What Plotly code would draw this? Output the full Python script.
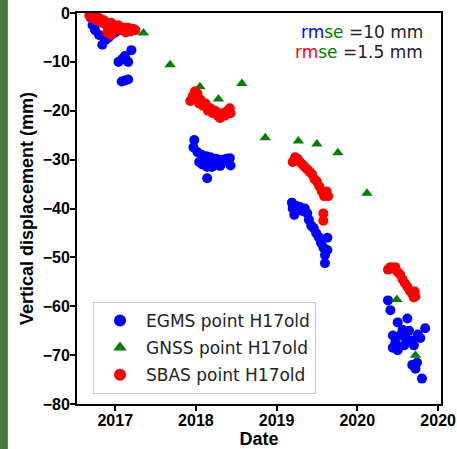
import plotly.graph_objects as go
import pandas as pd

# ---- data (decimal years, displacement in mm) ----
egms_t = [2016.70, 2016.72, 2016.75, 2016.80, 2016.84, 2016.88, 2016.92, 2016.97, 2017.00,
          2017.04, 2017.08, 2017.12, 2017.16, 2017.20, 2017.12, 2017.16, 2017.08,
          2017.98, 2017.97, 2018.02, 2018.04, 2018.07, 2018.10, 2018.13, 2018.14, 2018.14,
          2018.18, 2018.21, 2018.25, 2018.28, 2018.31, 2018.34, 2018.38, 2018.42, 2018.43,
          2018.30, 2018.08, 2018.20,
          2019.19, 2019.20, 2019.22, 2019.25, 2019.29, 2019.32, 2019.35, 2019.38, 2019.40,
          2019.43, 2019.46, 2019.49, 2019.52, 2019.55, 2019.58, 2019.60, 2019.63, 2019.63, 2019.60,
          2020.38, 2020.41, 2020.50, 2020.62, 2020.44, 2020.47, 2020.44, 2020.50, 2020.53,
          2020.56, 2020.60, 2020.64, 2020.67, 2020.70, 2020.78, 2020.84, 2020.75, 2020.68,
          2020.72, 2020.74, 2020.80, 2020.58]
egms_v = [-1.0, -2.5, -3.5, -4.5, -6.5, -5.5, -5.0, -4.0, -4.0,
          -10.0, -9.5, -8.8, -10.0, -7.6, -13.8, -13.6, -14.0,
          -26.0, -27.5, -28.5, -30.5, -29.0, -30.0, -29.3, -31.5, -33.8,
          -29.5, -30.5, -29.8, -30.0, -31.0, -30.0, -29.8, -29.7, -31.2,
          -31.3, -31.0, -31.5,
          -38.8, -40.0, -41.3, -39.5, -39.7, -40.5, -40.0, -41.0, -42.3,
          -43.5, -44.0, -45.0, -45.8, -47.0, -48.0, -49.5, -46.0, -48.5, -51.2,
          -58.8, -60.8, -63.3, -62.5, -66.0, -67.5, -68.5, -69.0, -66.0,
          -64.8, -66.5, -65.0, -67.0, -68.0, -66.5, -64.5, -65.8, -72.0,
          -72.8, -71.5, -74.8, -68.0]

gnss_t = [2017.09, 2017.35, 2017.68, 2018.05, 2018.28, 2018.57, 2018.86, 2019.27,
          2019.50, 2019.76, 2020.12, 2020.49, 2020.72]
gnss_v = [0.8, -4.1, -10.6, -15.1, -17.6, -14.4, -25.5, -26.2,
          -26.8, -28.6, -36.9, -58.6, -70.0]

sbas_t = [2016.68, 2016.71, 2016.74, 2016.77, 2016.80, 2016.83, 2016.86, 2016.89, 2016.92,
          2016.95, 2016.98, 2017.01, 2017.04, 2017.07, 2017.10, 2017.13, 2017.16, 2017.19,
          2017.22, 2017.25, 2016.90, 2016.95,
          2017.93, 2017.96, 2017.99, 2018.02, 2018.04, 2018.06, 2018.09, 2018.12, 2018.15,
          2018.18, 2018.21, 2018.24, 2018.27, 2018.30, 2018.33, 2018.36, 2018.39, 2018.42, 2018.43,
          2019.20, 2019.23, 2019.26, 2019.29, 2019.32, 2019.35, 2019.38, 2019.41, 2019.44,
          2019.47, 2019.50, 2019.53, 2019.56, 2019.59, 2019.62, 2019.64, 2019.58, 2019.58,
          2020.38, 2020.41, 2020.44, 2020.47, 2020.50, 2020.53, 2020.56, 2020.59, 2020.62,
          2020.65, 2020.68, 2020.71, 2020.72, 2020.70]
sbas_v = [-0.5, -1.0, -0.3, -1.5, -1.0, -2.0, -1.5, -2.5, -3.0,
          -2.0, -3.5, -3.0, -2.5, -3.5, -3.0, -4.0, -3.0, -3.8,
          -3.2, -3.5, -4.0, -4.5,
          -18.0, -17.0, -16.0, -16.5, -18.5, -17.8, -19.0, -18.5, -20.0,
          -19.5, -20.5, -20.0, -21.0, -21.5, -20.5, -21.0, -20.0, -19.5, -20.5,
          -30.5, -29.5, -29.8, -30.5, -31.0, -31.5, -32.0, -32.5, -33.0,
          -34.0, -34.5, -35.5, -36.5, -37.5, -36.5, -37.5, -41.0, -42.5,
          -52.5, -52.0, -52.3, -52.0, -53.0, -53.5, -54.5, -55.3, -56.0,
          -56.8, -57.5, -57.0, -58.0, -58.2]

tick_years = [2017, 2018, 2019, 2020, 2021]
tick_text = ["2017", "2018", "2019", "2020", "2020"]
y_ticks = [0, -10, -20, -30, -40, -50, -60, -70, -80]


def to_date(years):
    out = []
    for y in years:
        yr = int(y)
        start = pd.Timestamp(year=yr, month=1, day=1)
        end = pd.Timestamp(year=yr + 1, month=1, day=1)
        out.append(start + (end - start) * (y - yr))
    return out


fig = go.Figure()
fig.add_trace(go.Scatter(x=to_date(egms_t), y=egms_v, mode="markers", name="EGMS point H17old",
                         legendgroup="a",
                         marker=dict(color="#0000ff", size=10, symbol="circle")))
fig.add_trace(go.Scatter(x=to_date(gnss_t), y=gnss_v, mode="markers", name="GNSS point H17old",
                         legendgroup="b",
                         marker=dict(color="#008000", size=10, symbol="triangle-up")))
fig.add_trace(go.Scatter(x=to_date(sbas_t), y=sbas_v, mode="markers", name="SBAS point H17old",
                         legendgroup="c",
                         marker=dict(color="#ff0000", size=10, symbol="circle")))

tick_font = dict(family="Liberation Sans", size=16, color="black", weight="bold")
title_font = dict(family="Liberation Sans", size=18, color="black", weight="bold")

fig.update_layout(
    width=457, height=449,
    margin=dict(l=77, r=16, t=13, b=45),
    paper_bgcolor="white", plot_bgcolor="white",
    showlegend=True,
    legend=dict(x=0.044, y=0.261, xanchor="left", yanchor="top",
                bgcolor="rgba(255,255,255,0.8)", bordercolor="#cccccc", borderwidth=1,
                font=dict(family="DejaVu Sans", size=17, color="#222222"),
                tracegroupgap=2, itemsizing="constant", itemwidth=42),
    xaxis=dict(range=[pd.Timestamp("2016-07-12"), pd.Timestamp("2021-01-14")],
               tickvals=to_date(tick_years), ticktext=tick_text,
               ticks="outside", ticklen=5, tickwidth=1.5, tickcolor="black",
               showline=True, linecolor="black", linewidth=2, mirror=True,
               showgrid=False, zeroline=False, automargin=False,
               tickfont=tick_font, ticklabelstandoff=-4,
               title=dict(text="Date", font=title_font, standoff=2)),
    yaxis=dict(range=[-80, 0], tickvals=y_ticks,
               ticks="outside", ticklen=5, tickwidth=1.5, tickcolor="black",
               showline=True, linecolor="black", linewidth=2, mirror=True,
               showgrid=False, zeroline=False, automargin=False,
               tickfont=tick_font, ticklabelstandoff=-3,
               title=dict(text="Vertical displacement (mm)", font=title_font, standoff=4)),
)

fig.add_annotation(xref="paper", yref="paper", x=0.956, y=0.951, xanchor="right", yanchor="middle",
                   showarrow=False,
                   text="<span style='color:#0000ff'>rm</span><span style='color:#008000'>se</span> =10 mm",
                   font=dict(family="DejaVu Sans", size=17, color="#222222"))
fig.add_annotation(xref="paper", yref="paper", x=0.956, y=0.900, xanchor="right", yanchor="middle",
                   showarrow=False,
                   text="<span style='color:#ff0000'>rm</span><span style='color:#008000'>se</span> =1.5 mm",
                   font=dict(family="DejaVu Sans", size=17, color="#222222"))

# green strip at the left edge of the picture
fig.add_shape(type="rect", xref="paper", yref="paper", x0=-0.2115, x1=-0.19, y0=-0.2, y1=1.1,
              fillcolor="#4a7a40", line=dict(width=0), layer="below")

fig.write_html("out.html")
